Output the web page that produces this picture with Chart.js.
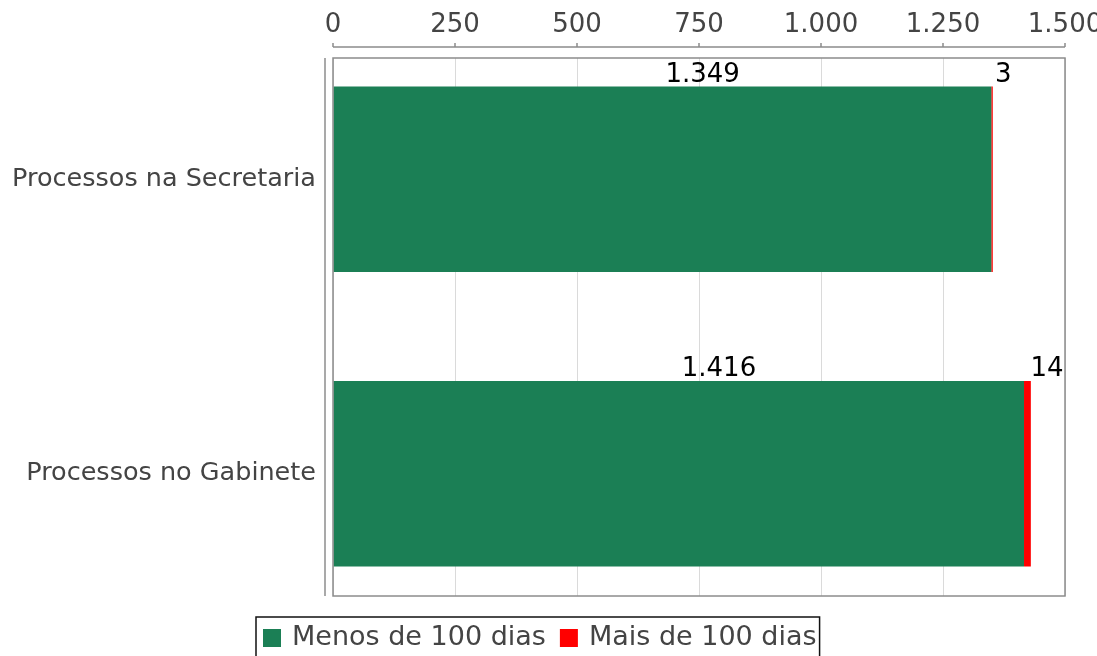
<!DOCTYPE html>
<html>
<head>
<meta charset="utf-8">
<script src="https://cdn.jsdelivr.net/npm/chart.js@4/dist/chart.umd.min.js"></script>
<style>
  html, body { margin: 0; padding: 0; background: #fff; }
  canvas { display: block; }
</style>
</head>
<body>
<canvas id="c" width="1097" height="656"></canvas>
<script>
const categories = ["Processos na Secretaria", "Processos no Gabinete"];
const menosDe100 = [1349, 1416];
const maisDe100 = [3, 14];
const seriesNames = ["Menos de 100 dias", "Mais de 100 dias"];
const xTicks = [0, 250, 500, 750, 1000, 1250, 1500];

const GREEN = "#1b7f55";
const RED = "#ff0000";
const FONT = "DejaVu Sans";

function fmt(v) {
  return String(v).replace(/\B(?=(\d{3})+(?!\d))/g, ".");
}

const decorPlugin = {
  id: "decor",
  afterDatasetsDraw(chart) {
    const { ctx, chartArea: a, scales } = chart;
    const xs = scales.x;
    ctx.save();
    ctx.font = "26px '" + FONT + "'";
    ctx.fillStyle = "#000";
    ctx.textAlign = "left";
    ctx.textBaseline = "alphabetic";
    chart.data.datasets.forEach((ds, di) => {
      const meta = chart.getDatasetMeta(di);
      meta.data.forEach((bar, i) => {
        const v = ds.data[i].x;
        const cx = (bar.x + bar.base) / 2;
        const top = bar.y - bar.height / 2;
        ctx.fillText(fmt(v), cx + 3, top - 5);
      });
    });
    ctx.strokeStyle = "#8c8c8c";
    ctx.lineWidth = 1.5;
    ctx.strokeRect(a.left, a.top, a.right - a.left, a.bottom - a.top);
    const ay = a.top - 11;
    ctx.beginPath();
    ctx.moveTo(xs.getPixelForValue(xTicks[0]), ay);
    ctx.lineTo(xs.getPixelForValue(xTicks[xTicks.length - 1]), ay);
    xTicks.forEach(t => {
      const px = xs.getPixelForValue(t);
      ctx.moveTo(px, ay);
      ctx.lineTo(px, ay - 4);
    });
    ctx.stroke();
    ctx.beginPath();
    ctx.moveTo(a.left - 8, a.top);
    ctx.lineTo(a.left - 8, a.bottom);
    ctx.stroke();
    ctx.restore();
  },
  afterDraw(chart) {
    const { ctx } = chart;
    ctx.save();
    ctx.font = "27px '" + FONT + "'";
    const colors = [GREEN, RED];
    const left = 256, top = 617, h = 40;
    const sq = 18, padL = 7, gap = 11, itemGap = 14, padR = 3;
    let w = padL;
    seriesNames.forEach((n, i) => {
      w += sq + gap + ctx.measureText(n).width + (i < seriesNames.length - 1 ? itemGap : padR);
    });
    ctx.strokeStyle = "#111";
    ctx.lineWidth = 1.5;
    ctx.strokeRect(left, top, w, h);
    let x = left + padL;
    const cy = top + h / 2 + 1;
    ctx.textBaseline = "middle";
    ctx.textAlign = "left";
    seriesNames.forEach((n, i) => {
      ctx.fillStyle = colors[i];
      ctx.fillRect(x, cy - sq / 2, sq, sq);
      x += sq + gap;
      ctx.fillStyle = "#444";
      ctx.fillText(n, x, cy);
      x += ctx.measureText(n).width + itemGap;
    });
    ctx.restore();
  }
};

new Chart(document.getElementById("c"), {
  type: "bar",
  data: {
    datasets: [
      {
        label: seriesNames[0],
        data: menosDe100.map((v, i) => ({ x: v, y: i })),
        backgroundColor: GREEN,
        borderWidth: 0
      },
      {
        label: seriesNames[1],
        data: maisDe100.map((v, i) => ({ x: v, y: i })),
        backgroundColor: RED,
        borderWidth: 0
      }
    ]
  },
  options: {
    indexAxis: "y",
    responsive: false,
    animation: false,
    devicePixelRatio: 1,
    layout: { padding: { left: 0, right: 32, top: 0, bottom: 60 } },
    datasets: { bar: { barPercentage: 0.63, categoryPercentage: 1 } },
    plugins: { legend: { display: false }, tooltip: { enabled: false } },
    scales: {
      x: {
        type: "linear",
        position: "top",
        stacked: true,
        min: xTicks[0],
        max: xTicks[xTicks.length - 1],
        afterBuildTicks: s => { s.ticks = xTicks.map(v => ({ value: v })); },
        afterFit: s => { s.height = 58; s.paddingLeft = 0; s.paddingRight = 0; },
        ticks: {
          callback: v => fmt(v),
          font: { family: FONT, size: 26 },
          color: "#444",
          padding: 17,
          maxRotation: 0,
          autoSkip: false
        },
        grid: { color: "#dadada", lineWidth: 1, drawTicks: false },
        border: { display: false }
      },
      y: {
        type: "linear",
        stacked: true,
        reverse: true,
        offset: false,
        min: -0.412,
        max: 1.415,
        afterBuildTicks: s => { s.ticks = categories.map((c, i) => ({ value: i })); },
        afterFit: s => { s.width = 333; s.paddingTop = 0; s.paddingBottom = 0; },
        ticks: {
          callback: v => categories[v] ?? "",
          font: { family: FONT, size: 25.5 },
          color: "#444",
          padding: 17,
          autoSkip: false
        },
        grid: { display: false, drawTicks: false, offset: false },
        border: { display: false }
      }
    }
  },
  plugins: [decorPlugin]
});
</script>
</body>
</html>
